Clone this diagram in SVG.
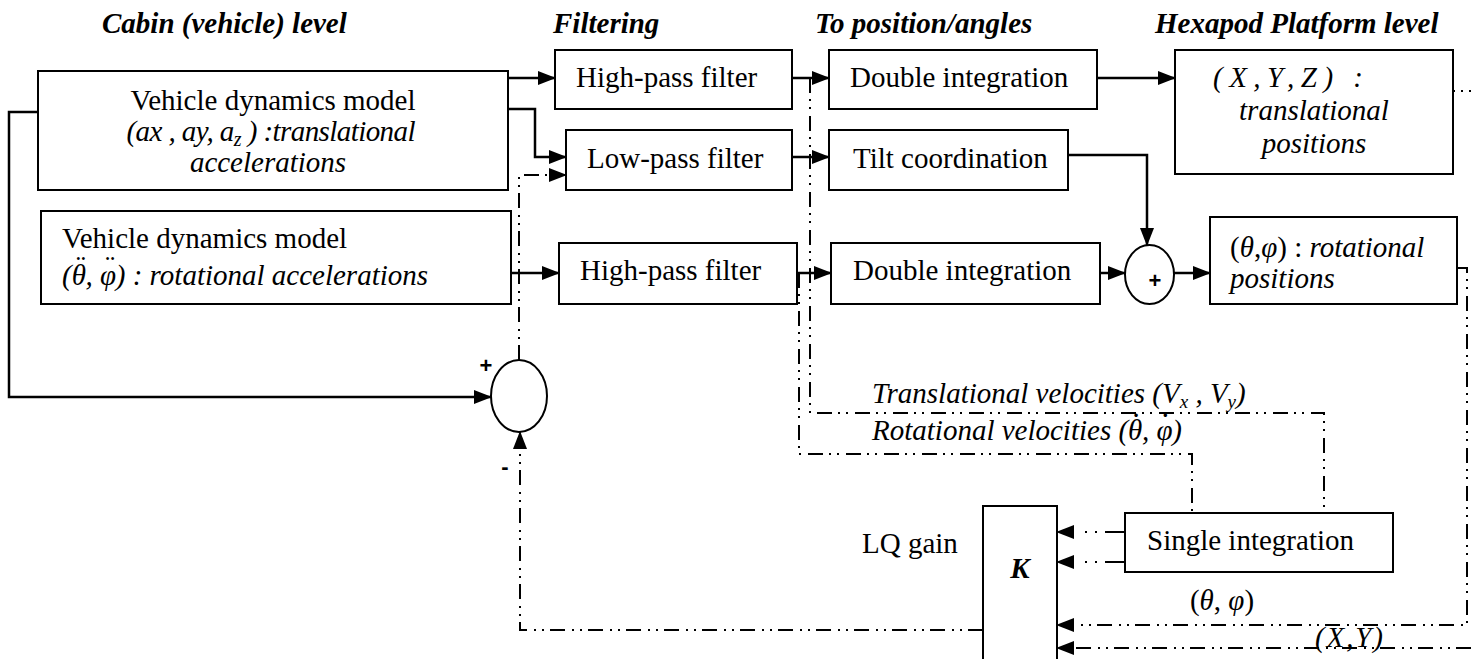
<svg xmlns="http://www.w3.org/2000/svg" width="1471" height="659" viewBox="0 0 1471 659">
<style>
.box{fill:#fff;stroke:#000;stroke-width:2}
.w{fill:none;stroke:#000;stroke-width:2.5}
.d{fill:none;stroke:#000;stroke-width:2;stroke-dasharray:15 6 2 6 2 7}
.dt{fill:none;stroke:#000;stroke-width:2;stroke-dasharray:2 6}
.t{font-family:'Liberation Serif','DejaVu Serif',serif;font-size:29px;fill:#000}
.i{font-style:italic}
.h{font-weight:bold;font-style:italic}
.s{font-family:'Liberation Sans','DejaVu Sans',sans-serif;font-weight:bold;font-size:22px;fill:#000}
</style>
<defs>
<marker id="ah" markerWidth="18" markerHeight="14" refX="17" refY="7" orient="auto" markerUnits="userSpaceOnUse"><path d="M0,0 L18,7 L0,14 z" fill="#000" stroke="none"/></marker>
</defs>
<rect width="1471" height="659" fill="#fff"/>
<g id="titles">
<text class="t h" x="102" y="33">Cabin (vehicle) level</text>
<text class="t h" x="553" y="33">Filtering</text>
<text class="t h" x="815" y="33">To position/angles</text>
<text class="t h" x="1155" y="33">Hexapod Platform level</text>
</g>
<g id="connectors">
<path class="w" d="M508,78 H555" marker-end="url(#ah)"/>
<path class="w" d="M508,109 H535 V157 H566" marker-end="url(#ah)"/>
<path class="w" d="M38,112 H9 V397 H491" marker-end="url(#ah)"/>
<path class="d" d="M519,360 V175 H566" marker-end="url(#ah)"/>
<path class="w" d="M511,273 H559" marker-end="url(#ah)"/>
<path class="w" d="M792,78 H829" marker-end="url(#ah)"/>
<path class="w" d="M792,157 H829" marker-end="url(#ah)"/>
<path class="w" d="M797,273 H831" marker-end="url(#ah)"/>
<path class="w" d="M1097,78 H1175" marker-end="url(#ah)"/>
<path class="w" d="M1068,155 H1147 V245" marker-end="url(#ah)"/>
<path class="w" d="M1100,273 H1125" marker-end="url(#ah)"/>
<path class="w" d="M1174,273 H1210" marker-end="url(#ah)"/>
<path class="d" d="M810,78 V413 H1324 V513"/>
<path class="d" d="M799,273 V454 H1192 V513"/>
<path class="d" d="M1125,532 H1057" style="stroke-dasharray:20 8 2 8 2 40" marker-end="url(#ah)"/>
<path class="d" d="M1125,562 H1057" style="stroke-dasharray:20 8 2 8 2 40" marker-end="url(#ah)"/>
<path class="d" d="M1457,268 H1467 V625 H1057" marker-end="url(#ah)"/>
<path class="dt" d="M1453,91 H1471"/>
<path class="d" d="M1471,648 H1057" marker-end="url(#ah)"/>
<path class="d" d="M983,630 H520 V432" marker-end="url(#ah)"/>
</g>
<g id="vehicle-translational">
<rect class="box" x="38" y="71" width="470" height="119"/>
<text class="t" x="273" y="110" text-anchor="middle">Vehicle dynamics model</text>
<text class="t i" x="271" y="141" text-anchor="middle" textLength="289" lengthAdjust="spacing">(ax , ay, a<tspan font-size="20" dy="5">z</tspan><tspan dy="-5"> ) :translational</tspan></text>
<text class="t i" x="268" y="172" text-anchor="middle">accelerations</text>
</g>
<g id="vehicle-rotational">
<rect class="box" x="41" y="211" width="470" height="93"/>
<text class="t" x="62" y="248">Vehicle dynamics model</text>
<text class="t i" x="62" y="285">(θ<tspan dx="-12" dy="-9">¨</tspan><tspan dx="2" dy="9">, φ</tspan><tspan dx="-13" dy="-9">¨</tspan><tspan dx="3" dy="9">) : rotational accelerations</tspan></text>
</g>
<g id="hpf1">
<rect class="box" x="555" y="50" width="237" height="59"/>
<text class="t" x="576" y="87">High-pass filter</text>
</g>
<g id="lpf">
<rect class="box" x="566" y="130" width="226" height="60"/>
<text class="t" x="587" y="168">Low-pass filter</text>
</g>
<g id="hpf2">
<rect class="box" x="559" y="243" width="238" height="61"/>
<text class="t" x="580" y="280">High-pass filter</text>
</g>
<g id="di1">
<rect class="box" x="829" y="50" width="268" height="59"/>
<text class="t" x="850" y="87">Double integration</text>
</g>
<g id="tilt">
<rect class="box" x="829" y="130" width="239" height="60"/>
<text class="t" x="853" y="168">Tilt coordination</text>
</g>
<g id="di2">
<rect class="box" x="831" y="243" width="269" height="61"/>
<text class="t" x="853" y="280">Double integration</text>
</g>
<g id="hexapod">
<rect class="box" x="1175" y="50" width="278" height="124"/>
<text class="t i" x="1213" y="87" textLength="150" lengthAdjust="spacing">(X,Y,Z) :</text>
<text class="t i" x="1314" y="120" text-anchor="middle">translational</text>
<text class="t i" x="1314" y="153" text-anchor="middle">positions</text>
</g>
<g id="sum2">
<ellipse class="box" cx="1149.5" cy="274.5" rx="24.5" ry="29.5"/>
<text class="s" x="1155" y="288" text-anchor="middle">+</text>
</g>
<g id="rotpos">
<rect class="box" x="1210" y="217" width="247" height="87"/>
<text class="t" x="1230" y="257">(<tspan class="i">θ</tspan>,<tspan class="i">φ</tspan>) : <tspan class="i">rotational</tspan></text>
<text class="t i" x="1230" y="288">positions</text>
</g>
<g id="sum1">
<ellipse class="box" cx="519" cy="396" rx="28" ry="36"/>
<text class="s" x="486" y="373" text-anchor="middle">+</text>
<text class="s" x="505" y="474" text-anchor="middle">-</text>
</g>
<g id="labels">
<text class="t i" x="872" y="403">Translational velocities (V<tspan font-size="19" dy="5">x</tspan><tspan dy="-5"> , V</tspan><tspan font-size="19" dy="5">y</tspan><tspan dy="-5">)</tspan></text>
<text class="t i" x="872" y="440">Rotational velocities (θ<tspan dx="-11" dy="-15" font-style="normal">·</tspan><tspan dx="1" dy="15">, φ</tspan><tspan dx="-12" dy="-15" font-style="normal">·</tspan><tspan dx="2" dy="15">)</tspan></text>
<text class="t" x="1222" y="610" text-anchor="middle">(<tspan class="i">θ</tspan>, <tspan class="i">φ</tspan>)</text>
<text class="t i" x="1315" y="647" textLength="68" lengthAdjust="spacing">(X,Y)</text>
</g>
<g id="single-integration">
<rect class="box" x="1125" y="513" width="268" height="59"/>
<text class="t" x="1147" y="550">Single integration</text>
</g>
<g id="lq-gain">
<text class="t" x="862" y="553">LQ gain</text>
<rect class="box" x="983" y="506" width="74" height="170"/>
<text class="t h" x="1020" y="578" text-anchor="middle">K</text>
</g>
</svg>
